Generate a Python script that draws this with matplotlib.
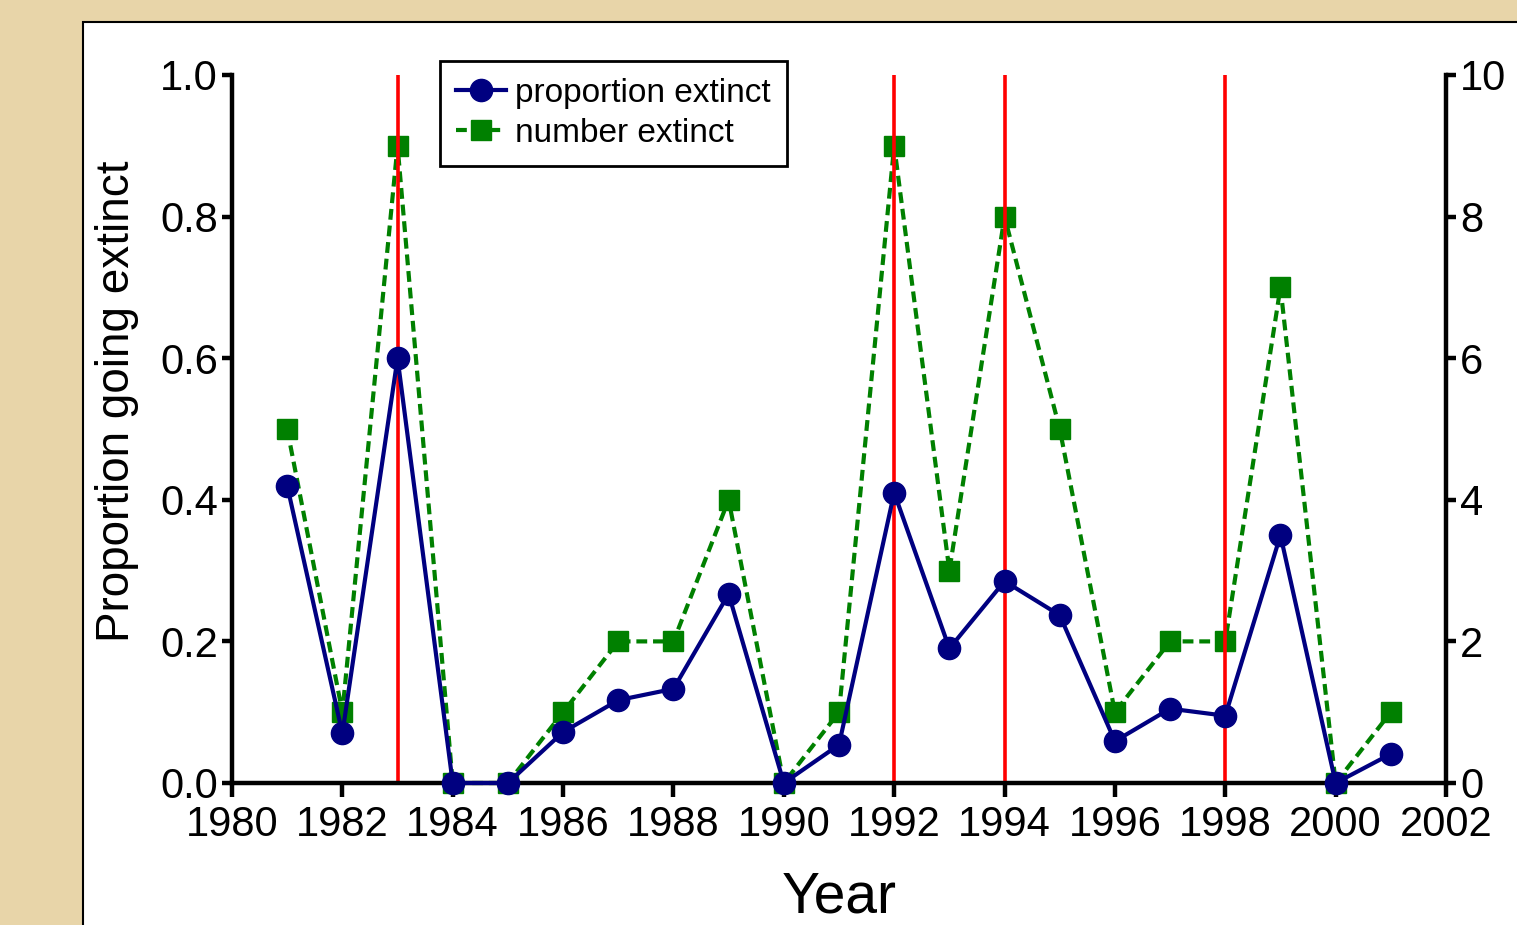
import matplotlib
matplotlib.use('Agg')
import matplotlib.pyplot as plt
from matplotlib.patches import Rectangle

plt.rcParams['font.family'] = ['Liberation Sans', 'DejaVu Sans']

# data
years = [1981, 1982, 1983, 1984, 1985, 1986, 1987, 1988, 1989, 1990, 1991,
         1992, 1993, 1994, 1995, 1996, 1997, 1998, 1999, 2000, 2001]
proportion = [0.42, 0.07, 0.60, 0.0, 0.0, 0.072, 0.117, 0.133, 0.267, 0.0, 0.054,
              0.41, 0.19, 0.285, 0.237, 0.059, 0.105, 0.095, 0.35, 0.0, 0.041]
number = [5, 1, 9, 0, 0, 1, 2, 2, 4, 0, 1, 9, 3, 8, 5, 1, 2, 2, 7, 0, 1]
event_years = [1983, 1992, 1994, 1998]
x_ticks = list(range(1980, 2003, 2))
left_ticks = [0.0, 0.2, 0.4, 0.6, 0.8, 1.0]
right_ticks = [0, 2, 4, 6, 8, 10]

W, H = 1517, 925
fig = plt.figure(figsize=(W / 100, H / 100), dpi=100)
fig.patch.set_facecolor('#e8d5a9')

# white panel behind the plot
panel = Rectangle((83 / W, -0.01), 1.0, (H - 22) / H + 0.01, transform=fig.transFigure,
                  facecolor='white', edgecolor='black', linewidth=1.5, zorder=-5)
fig.patches.append(panel)

ax = fig.add_axes([232 / W, 142 / H, 1214 / W, 708 / H])
ax2 = ax.twinx()
ax2.patch.set_visible(False)

# green on the right axis, drawn beneath
ln2, = ax2.plot(years, number, '--', color='#008000', lw=3, dashes=(2.6, 1.4),
                marker='s', markersize=15, markerfacecolor='#008000',
                markeredgecolor='#008000', clip_on=False, label='number extinct')

ax.set_zorder(ax2.get_zorder() + 1)
ax.patch.set_visible(False)

ax.vlines(event_years, 0, 1.0, color='#ff0000', lw=2.6, zorder=2)
ln1, = ax.plot(years, proportion, '-', color='#000080', lw=3, marker='o',
               markersize=16, markerfacecolor='#000080', markeredgecolor='#000080',
               clip_on=False, zorder=3, label='proportion extinct')

ax.set_xlim(1980, 2002)
ax.set_ylim(0, 1.0)
ax2.set_ylim(0, 10)
ax.set_xticks(x_ticks)
ax.set_yticks(left_ticks)
ax.set_yticklabels(['%.1f' % v for v in left_ticks])
ax2.set_yticks(right_ticks)

for a in (ax, ax2):
    a.spines['top'].set_visible(False)
    for s in a.spines.values():
        s.set_linewidth(3.2)
ax.spines['right'].set_visible(False)
ax2.spines['left'].set_visible(False)
ax2.spines['bottom'].set_visible(False)

ax.tick_params(axis='x', direction='out', length=10, width=3.2, pad=6, labelsize=30)
ax.tick_params(axis='y', direction='out', length=7, width=3.2, pad=3, labelsize=30)
ax2.tick_params(axis='y', direction='out', length=7, width=3.2, pad=3, labelsize=30)

ax.set_xlabel('Year', fontsize=41, labelpad=18)
fig.text(117 / W, 1 - 401 / H, 'Proportion going extinct', rotation=90,
         fontsize=33, ha='center', va='center')

leg = ax.legend([ln1, ln2], ['proportion extinct', 'number extinct'],
                loc='upper left', bbox_to_anchor=(0.171, 1.02), fontsize=24,
                frameon=True, fancybox=False, framealpha=1, edgecolor='black',
                handlelength=1.5, handletextpad=0.25, borderpad=0.5,
                labelspacing=0.28, borderaxespad=0)
leg.get_frame().set_linewidth(2)

fig.savefig('out.png', dpi=100, facecolor=fig.get_facecolor())
